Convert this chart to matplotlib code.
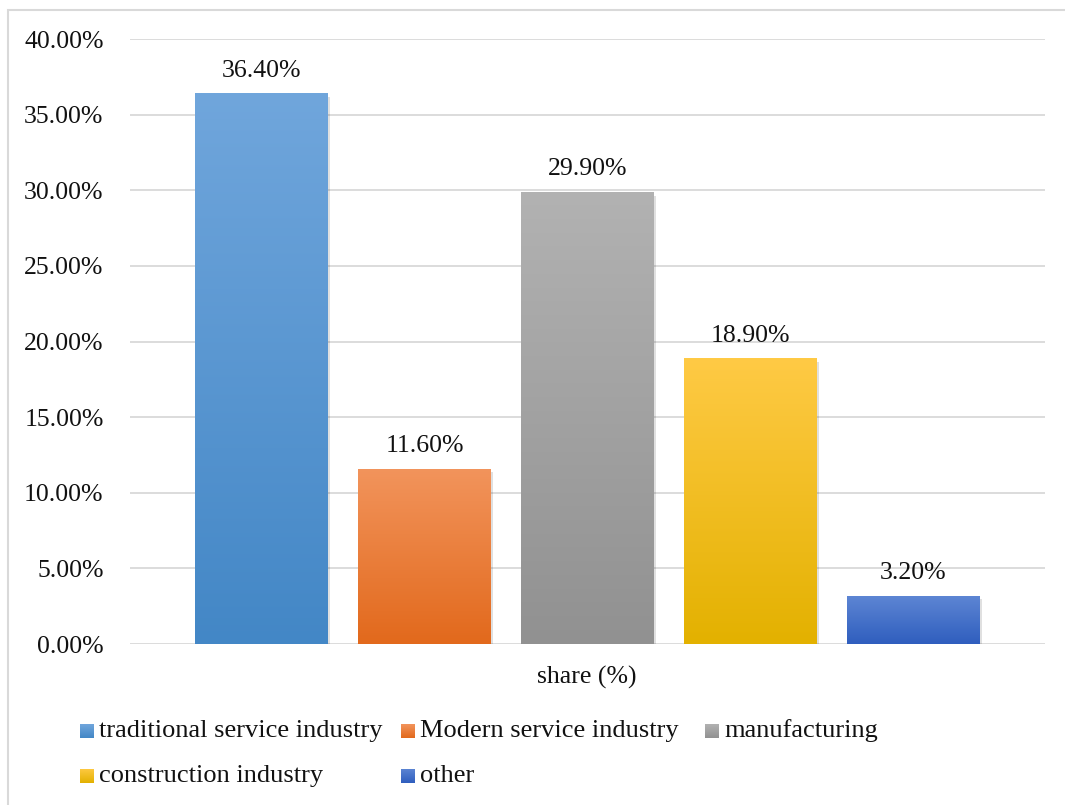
import matplotlib.pyplot as plt
import numpy as np
from matplotlib.patches import Rectangle
from matplotlib.colors import LinearSegmentedColormap
from matplotlib.ticker import FuncFormatter

plt.rcParams['font.family'] = ['Liberation Serif', 'DejaVu Serif']

categories = ["traditional service industry", "Modern service industry",
              "manufacturing", "construction industry", "other"]
shares = [36.4, 11.6, 29.9, 18.9, 3.2]
labels = ["36.40%", "11.60%", "29.90%", "18.90%", "3.20%"]
yticks = [0, 5, 10, 15, 20, 25, 30, 35, 40]

# (top, bottom) colours of the gradient fill
grads = [("#70A6DC", "#4387C6"), ("#F2945C", "#E2691C"), ("#B2B2B2", "#919191"),
         ("#FFCA45", "#E3B100"), ("#5E86D4", "#2F5EBE")]

W, H = 1065, 805
FS = 18.5

fig = plt.figure(figsize=(W / 100, H / 100), dpi=100)
fig.patches.append(Rectangle((8 / W, -0.01), 1.1, 1 - 10 / H + 0.01,
                             transform=fig.transFigure, fill=False,
                             edgecolor="#D9D9D9", linewidth=1.5))
ax = fig.add_axes([130 / W, 1 - 644 / H, 915 / W, 605 / H])

width = 0.816
x = np.arange(len(shares))

for yt in yticks:
    ax.axhline(yt, color="#D9D9D9", linewidth=1.3, zorder=0)

grad = np.linspace(0, 1, 256).reshape(-1, 1)
for xi, v, (ctop, cbot), lab in zip(x, shares, grads, labels):
    # soft shadow
    ax.add_patch(Rectangle((xi - width / 2 + 0.012, -0.25), width, v, facecolor="#000000",
                           alpha=0.12, edgecolor="none", zorder=1))
    bar = ax.bar(xi, v, width=width, color=cbot, zorder=2)[0]
    cmap = LinearSegmentedColormap.from_list("g", [cbot, ctop])
    im = ax.imshow(grad, cmap=cmap, origin="lower", aspect="auto",
                   extent=(xi - width / 2, xi + width / 2, 0, v), zorder=3)
    im.set_clip_path(bar)
    ax.text(xi, v + 0.75, lab, ha="center", va="bottom", fontsize=FS, color="#111111")

ax.set_xlim(-0.807, len(shares) - 1 + 0.807)
ax.set_ylim(0, 40)
ax.set_yticks(yticks)
ax.yaxis.set_major_formatter(FuncFormatter(lambda v, p: f"{v:.2f}%"))
ax.tick_params(axis="y", length=0, labelsize=FS, pad=19, labelcolor="#111111")
ax.set_xticks([])
for s in ax.spines.values():
    s.set_visible(False)

fig.text(587 / W, 1 - 677 / H, "share (%)", ha="center", va="center",
         fontsize=FS, color="#111111")

# legend, laid out row by row like the original
leg_pos = [(80, 731), (401, 731), (705, 731), (80, 776), (401, 776)]
sq = 14
for (px, py), name, (ctop, cbot) in zip(leg_pos, categories, grads):
    lax = fig.add_axes([px / W, 1 - (py + sq / 2) / H, sq / W, sq / H])
    cmap = LinearSegmentedColormap.from_list("g", [cbot, ctop])
    lax.imshow(grad, cmap=cmap, origin="lower", aspect="auto")
    lax.axis("off")
    fig.text((px + sq + 5) / W, 1 - py / H, name, ha="left", va="center",
             fontsize=19, color="#111111")

fig.savefig("out.png", dpi=100)
